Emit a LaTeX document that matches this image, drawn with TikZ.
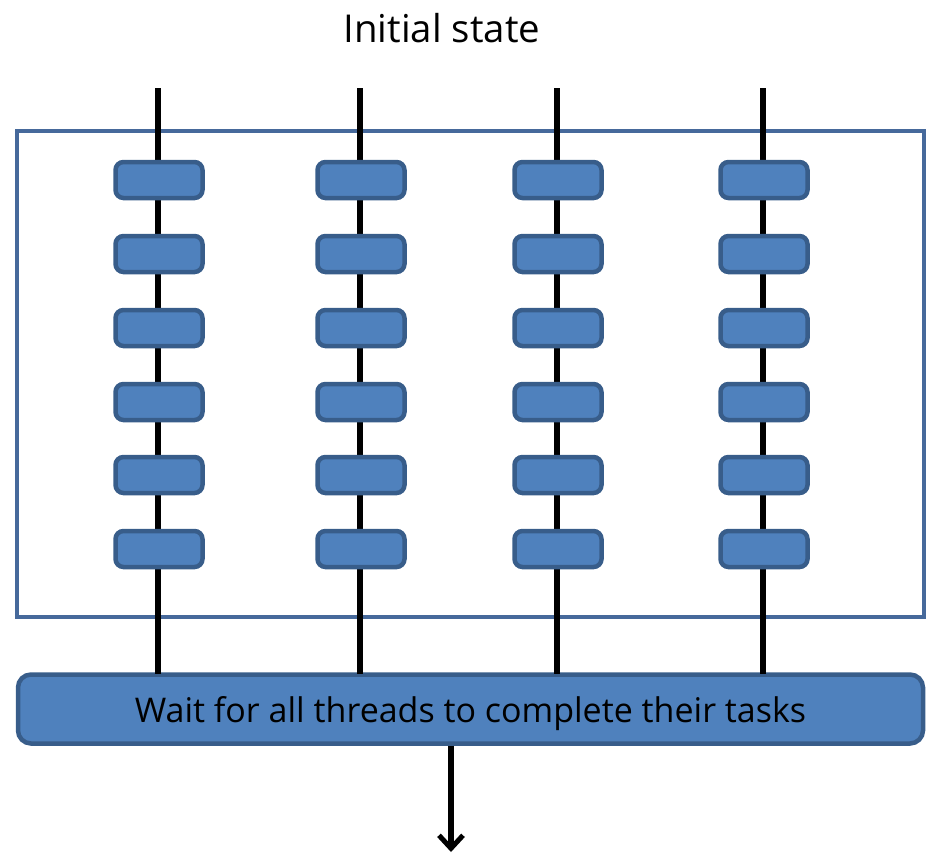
\documentclass[tikz,border=0pt]{standalone}
\usepackage{fontspec}
\setmainfont{Open Sans}
\usetikzlibrary{arrows.meta}
\definecolor{taskfill}{HTML}{4F81BD}
\definecolor{taskedge}{HTML}{385D8A}
\definecolor{frameedge}{HTML}{46699B}
\begin{document}
\begin{tikzpicture}[x=1pt,y=-1pt,
  taskbox/.style={draw=taskedge,fill=taskfill,line width=4.5pt,rounded corners=8pt,
    minimum width=87pt,minimum height=36pt,inner sep=0pt},
  thread/.style={line width=6pt,black},
  barbox/.style={draw=taskedge,fill=taskfill,line width=4.5pt,rounded corners=13pt,
    minimum width=905pt,minimum height=69pt,inner sep=0pt,font=\fontsize{34}{41}\selectfont},
  outer/.style={draw=frameedge,line width=4pt}]
\useasboundingbox (0,0) rectangle (927,855);
% title
\node[font=\fontsize{38.4}{46}\selectfont] (title) at (442,28) {Initial state};
% enclosing frame
\draw[outer] (17,131) rectangle (924,617);
% final synchronisation bar
\node[barbox] (bar) at (470.5,709) {\raisebox{-5pt}[\height][\depth]{Wait for all threads to complete their tasks}};
% thread columns with their tasks
\foreach \c/\x in {1/158,2/360,3/557,4/763}{
  \coordinate (top\c) at (\x,88);
  \coordinate (end\c) at (\x,673.5);
  \draw[thread] (top\c) -- (end\c);
  \foreach \r/\y in {1/180,2/254,3/328,4/402,5/475,6/549}{
    \node[taskbox] (t\c\r) at (\x+1,\y) {};
  }
}
% continuation after the barrier
\coordinate (out) at (451,852);
\draw[thread,line width=5.5pt,-{Straight Barb[length=13pt,width=24pt,line width=5pt]}] (bar.south -| out) -- (out);
\end{tikzpicture}
\end{document}
